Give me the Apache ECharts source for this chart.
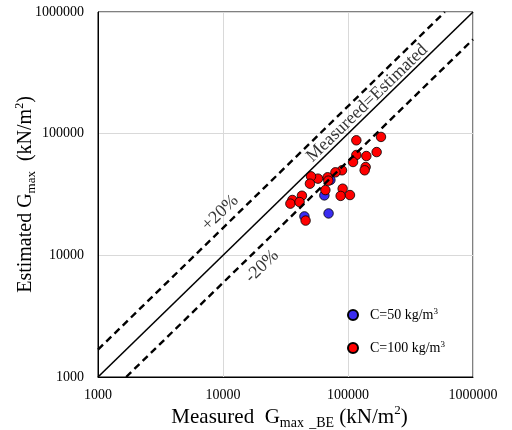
<!DOCTYPE html>
<html>
<head>
<meta charset="utf-8">
<script src="https://cdn.jsdelivr.net/npm/echarts@6/dist/echarts.min.js"></script>
<style>html,body{margin:0;padding:0;background:#fff;}#c{width:512px;height:430px;}</style>
</head>
<body>
<div id="c"></div>
<script>
// Axis ticks (log scale)
var tickValues = [1000, 10000, 100000, 1000000];

// Series: C=50 kg/m3 (blue)
var c50Measured  = [44800, 69900, 64700, 72300];
var c50Estimated = [20900, 22100, 31100, 41600];

// Series: C=100 kg/m3 (red)
var c100Measured  = [116600, 183600, 116600, 140200, 169500, 109700, 138400, 135900, 89500, 79300, 68700, 69600, 57500, 50600, 49600, 65900, 90600, 87300, 103700, 42800, 35900, 34600, 41000, 45800];
var c100Estimated = [88200, 94000, 66800, 65500, 70600, 58500, 53200, 50000, 50000, 48100, 43800, 41100, 42700, 44600, 38800, 34400, 35300, 30800, 31300, 30900, 28500, 26600, 27400, 19300];

// Reference lines (endpoints)
var equalX = [1000, 1000000], equalY = [1000, 1000000];
var plusX  = [1000, 595000],  plusY  = [1680, 1000000];
var minusX = [1680, 1000000], minusY = [1000, 595000];

// Annotation text anchors
var noteText = ['Measureed=Estimated', '+20%', '-20%'];
var noteX = [142000, 9510, 20500];
var noteY = [178000, 22300, 8110];

function zip(a, b) { return a.map(function (v, i) { return [v, b[i]]; }); }

var serif = '"Liberation Serif", "Times New Roman", serif';
var chart = echarts.init(document.getElementById('c'));

var axisCommon = {
  type: 'log', logBase: 10, min: 1000, max: 1000000,
  axisLine: { show: true, lineStyle: { color: '#000', width: 1 } },
  axisTick: { show: false },
  splitLine: { show: true, lineStyle: { color: '#d9d9d9', width: 1 } },
  axisLabel: { color: '#000', fontFamily: serif, fontSize: 14,
    formatter: function (v) { return tickValues.indexOf(Math.round(v)) >= 0 ? String(Math.round(v)) : ''; } },
  nameLocation: 'middle',
  nameMoveOverlap: false
};

chart.setOption({
  animation: false,
  backgroundColor: '#fff',
  grid: { left: 98, right: 39, top: 12, bottom: 53, show: true, borderColor: '#000', borderWidth: 1,
    backgroundColor: 'transparent', containLabel: false, outerBoundsMode: 'none' },
  xAxis: Object.assign({}, axisCommon, {
    axisLabel: Object.assign({}, axisCommon.axisLabel, { margin: 11 }),
    name: 'Measured  G{sub|max} {sub|_BE} (kN/m{sup|2})',
    nameGap: 27,
    nameTextStyle: {
      color: '#000', fontFamily: serif, fontSize: 21, lineHeight: 26, padding: [0, 0, 0, 8],
      rich: {
        sub: { fontFamily: serif, fontSize: 14, lineHeight: 14, verticalAlign: 'bottom', color: '#000' },
        sup: { fontFamily: serif, fontSize: 13, lineHeight: 20, verticalAlign: 'top', color: '#000' }
      }
    }
  }),
  yAxis: Object.assign({}, axisCommon, {
    axisLabel: Object.assign({}, axisCommon.axisLabel, { margin: 14 }),
    name: 'Estimated G{sub|max}  (kN/m{sup|2})',
    nameGap: 60,
    nameTextStyle: {
      color: '#000', fontFamily: serif, fontSize: 20, lineHeight: 24,
      rich: {
        sub: { fontFamily: serif, fontSize: 13, lineHeight: 13, verticalAlign: 'bottom', color: '#000' },
        sup: { fontFamily: serif, fontSize: 12, lineHeight: 18, verticalAlign: 'top', color: '#000' }
      }
    }
  }),
  legend: {
    orient: 'vertical', left: 342, top: 302, itemWidth: 10, itemHeight: 10, itemGap: 18,
    textStyle: { fontFamily: serif, fontSize: 14, color: '#000', padding: [0, 0, 0, 7],
      rich: { sup: { fontFamily: serif, fontSize: 9, lineHeight: 16, verticalAlign: 'top', color: '#000' } } },
    formatter: function (n) { return n.replace('m3', 'm{sup|3}'); },
    data: ['C=50 kg/m3', 'C=100 kg/m3']
  },
  series: [
    { type: 'line', data: zip(equalX, equalY), symbol: 'none', silent: true,
      lineStyle: { color: '#000', width: 1.6 } },
    { type: 'line', data: zip(plusX, plusY), symbol: 'none', silent: true,
      lineStyle: { color: '#000', width: 2.4, type: [7, 4.5] } },
    { type: 'line', data: zip(minusX, minusY), symbol: 'none', silent: true,
      lineStyle: { color: '#000', width: 2.4, type: [7, 4.5] } },
    { name: 'C=50 kg/m3', type: 'scatter', data: zip(c50Measured, c50Estimated), symbol: 'circle', symbolSize: 9.5,
      itemStyle: { color: '#3a2cf0', borderColor: '#000', borderWidth: 0.8, opacity: 1 } },
    { name: 'C=100 kg/m3', type: 'scatter', data: zip(c100Measured, c100Estimated), symbol: 'circle', symbolSize: 9.5,
      itemStyle: { color: '#ff0000', borderColor: '#000', borderWidth: 0.8, opacity: 1 } },
    { type: 'scatter', symbolSize: 0, silent: true,
      data: noteText.map(function (t, i) { return { value: [noteX[i], noteY[i]], name: t }; }),
      label: { show: true, position: 'inside', rotate: 44, formatter: '{b}', color: '#000', fontFamily: serif, fontSize: 18 } }
  ]
});
</script>
</body>
</html>
